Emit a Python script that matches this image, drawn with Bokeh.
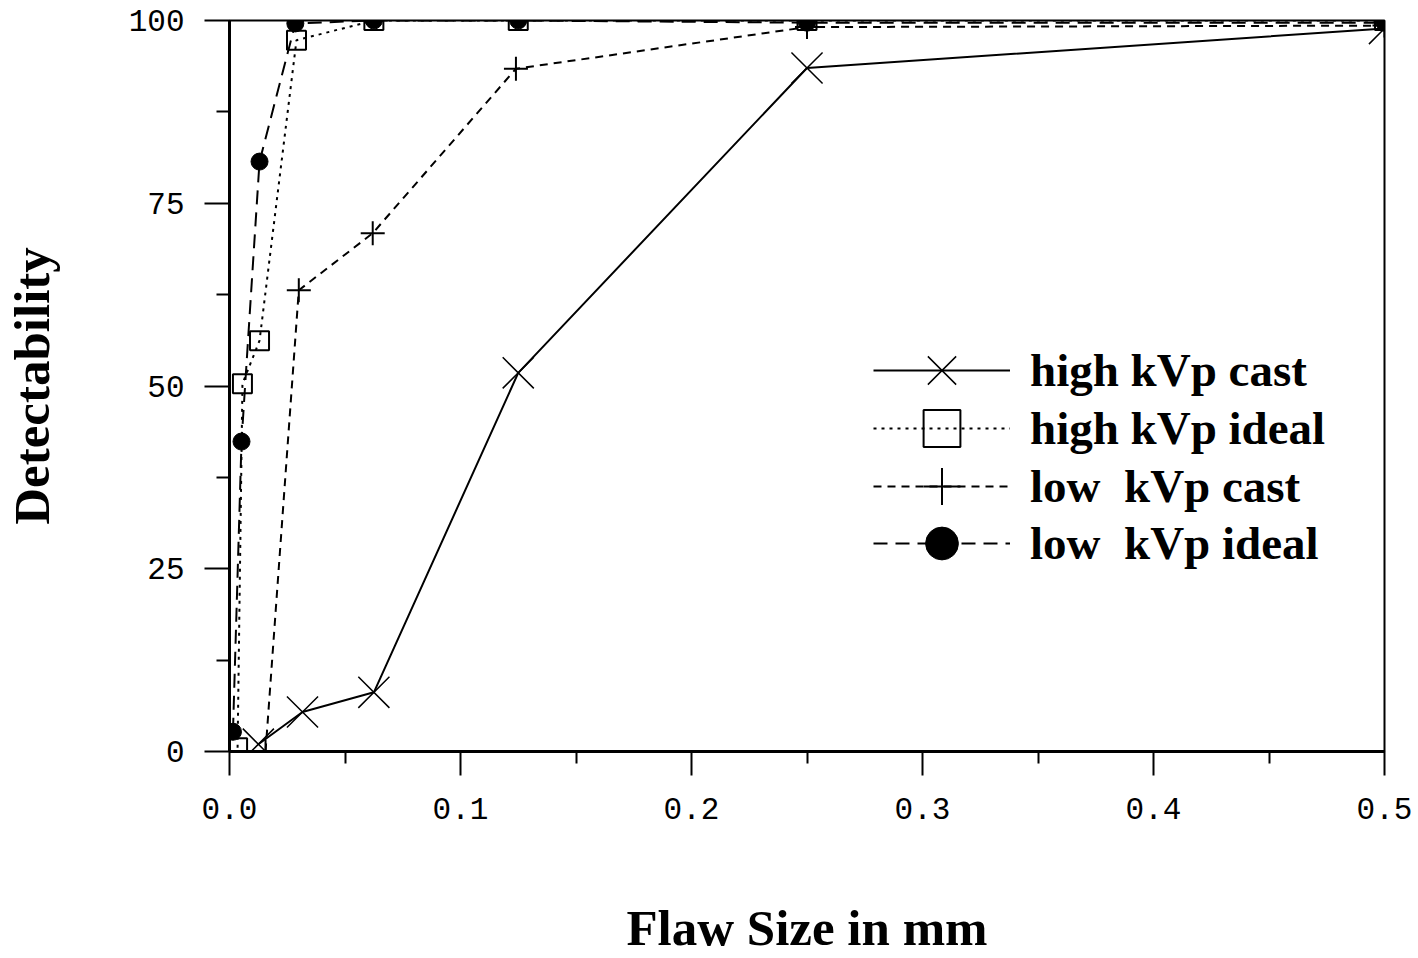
from bokeh.plotting import figure
from bokeh.models import Range1d, FixedTicker, PrintfTickFormatter, Legend, LegendItem
from bokeh.embed import file_html
from bokeh.resources import INLINE

# ---- data ----
flaw_high_cast = [0.0125, 0.0316, 0.0625, 0.125, 0.25, 0.5]
det_high_cast = [1.0, 5.4, 8.1, 51.8, 93.5, 98.9]

flaw_high_ideal = [0.0035, 0.0056, 0.013, 0.029, 0.0625, 0.125, 0.25, 0.5]
det_high_ideal = [0.5, 50.3, 56.2, 97.3, 100.0, 100.0, 100.0, 100.0]

flaw_low_cast = [0.0156, 0.030, 0.062, 0.124, 0.25, 0.5]
det_low_cast = [0.0, 63.1, 70.9, 93.4, 99.1, 99.3]

flaw_low_ideal = [0.0015, 0.0052, 0.013, 0.0285, 0.0625, 0.125, 0.25, 0.5]
det_low_ideal = [2.7, 42.4, 80.7, 99.6, 100.0, 100.0, 99.7, 99.7]

series_labels = ["high kVp cast", "high kVp ideal", "low  kVp cast", "low  kVp ideal"]

x_ticks = [0.0, 0.1, 0.2, 0.3, 0.4, 0.5]
x_minor_ticks = [0.05, 0.15, 0.25, 0.35, 0.45]
y_ticks = [0, 25, 50, 75, 100]
y_minor_ticks = [12.5, 37.5, 62.5, 87.5]

x_title = "Flaw Size in mm"
y_title = "Detectability"

# ---- figure ----
p = figure(width=1418, height=958, output_backend="svg", toolbar_location=None,
           x_range=Range1d(0, 0.5), y_range=Range1d(0, 100),
           min_border_left=229, min_border_right=34, min_border_top=20, min_border_bottom=207,
           background_fill_color="white", border_fill_color="white")
p.xgrid.visible = False
p.ygrid.visible = False
p.outline_line_color = "black"
p.outline_line_width = 2

p.xaxis.ticker = FixedTicker(ticks=x_ticks, minor_ticks=x_minor_ticks)
p.yaxis.ticker = FixedTicker(ticks=y_ticks, minor_ticks=y_minor_ticks)
p.xaxis.formatter = PrintfTickFormatter(format="%.1f")
p.yaxis.formatter = PrintfTickFormatter(format="%d")

for ax in (p.xaxis, p.yaxis):
    ax.axis_line_width = 3
    ax.axis_line_color = "black"
    ax.major_tick_in = 0
    ax.minor_tick_in = 0
    ax.major_tick_line_width = 2
    ax.minor_tick_line_width = 2
    ax.major_tick_line_color = "black"
    ax.minor_tick_line_color = "black"
    ax.major_label_text_font = "Liberation Mono"
    ax.major_label_text_font_size = "31px"
    ax.major_label_text_color = "black"
    ax.axis_label_text_font = "Liberation Serif"
    ax.axis_label_text_font_style = "bold"
    ax.axis_label_text_font_size = "51px"
    ax.axis_label_text_color = "black"

p.xaxis.major_tick_out = 24
p.xaxis.minor_tick_out = 12
p.yaxis.major_tick_out = 25
p.yaxis.minor_tick_out = 13
p.xaxis.major_label_standoff = 22
p.yaxis.major_label_standoff = 20
p.xaxis.axis_label = x_title
p.yaxis.axis_label = y_title
p.xaxis.axis_label_standoff = 78
p.yaxis.axis_label_standoff = 66

# ---- series ----
l1 = p.line(flaw_high_cast, det_high_cast, line_color="black", line_width=2)
m1 = p.scatter(flaw_high_cast, det_high_cast, marker="x", size=44,
               line_color="black", line_width=1.5)

l2 = p.line(flaw_high_ideal, det_high_ideal, line_color="black", line_width=2,
            line_dash="3 5")
m2 = p.scatter(flaw_high_ideal, det_high_ideal, marker="square", size=19,
               line_color="black", line_width=2, fill_color=None)

l3 = p.line(flaw_low_cast, det_low_cast, line_color="black", line_width=2,
            line_dash="8 6")
m3 = p.scatter(flaw_low_cast, det_low_cast, marker="cross", size=24,
               line_color="black", line_width=2)

l4 = p.line(flaw_low_ideal, det_low_ideal, line_color="black", line_width=2,
            line_dash="14 8")
m4 = p.scatter(flaw_low_ideal, det_low_ideal, marker="circle", size=17,
               line_color="black", fill_color="black")

# one legend per row so each row can get its own glyph box (marker size) and pitch
legend_rows = [
    (series_labels[0], [l1, m1], 100, 331),
    (series_labels[1], [l2, m2], 92, 277),
    (series_labels[2], [l3, m3], 92, 219),
    (series_labels[3], [l4, m4], 82, 167),
]
for label, rends, gh, ypos in legend_rows:
    lg = Legend(
        items=[LegendItem(label=label, renderers=rends)],
        location=(644, ypos),
        glyph_width=137, glyph_height=gh, label_height=gh,
        padding=0, margin=0, spacing=0, label_standoff=20,
        label_text_font="Liberation Serif", label_text_font_style="bold",
        label_text_font_size="47px", label_text_color="black",
        border_line_color=None, background_fill_alpha=0,
    )
    p.add_layout(lg)

open("out.html", "w").write(file_html(p, INLINE))
